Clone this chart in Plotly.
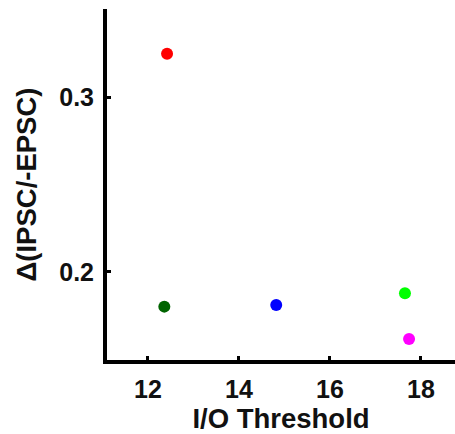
import plotly.graph_objects as go

io_threshold = [12.42, 12.36, 14.82, 17.65, 17.74]
delta_ratio = [0.3247, 0.1802, 0.1811, 0.1878, 0.1617]
colors = ["#ff0000", "#006400", "#0000ff", "#00ff00", "#ff00ff"]

x_ticks = [12, 14, 16, 18]
y_ticks = [0.2, 0.3]

fig = go.Figure()
fig.add_trace(go.Scatter(
    x=io_threshold, y=delta_ratio, mode="markers",
    marker=dict(size=12, color=colors, line=dict(width=0)),
    showlegend=False, hoverinfo="skip",
))

font = "Liberation Sans, Arial, sans-serif"
fig.update_layout(
    width=455, height=434,
    margin=dict(l=107, r=0, t=9, b=74),
    paper_bgcolor="white", plot_bgcolor="white",
    font=dict(family=font, color="#111111"),
)
fig.update_xaxes(
    range=[11.10, 18.75], tickvals=x_ticks, ticktext=[str(v) for v in x_ticks],
    showgrid=False, zeroline=False, showline=True, linecolor="black", linewidth=4,
    ticks="inside", ticklen=4, tickwidth=3, tickcolor="black",
    tickfont=dict(size=25, family=font, weight="bold"), ticklabelstandoff=4,
    title=dict(text="I/O Threshold", font=dict(size=27.5, family=font, weight="bold"), standoff=8),
)
fig.update_yaxes(
    range=[0.1497, 0.3503], tickvals=y_ticks, ticktext=["0.2", "0.3"],
    showgrid=False, zeroline=False, showline=True, linecolor="black", linewidth=4,
    ticks="inside", ticklen=4, tickwidth=3, tickcolor="black",
    tickfont=dict(size=25, family=font, weight="bold"), ticklabelstandoff=4,
    title=dict(text="Δ(IPSC/-EPSC)", font=dict(size=27.5, family=font, weight="bold"), standoff=16),
)

fig.write_html("out.html")
